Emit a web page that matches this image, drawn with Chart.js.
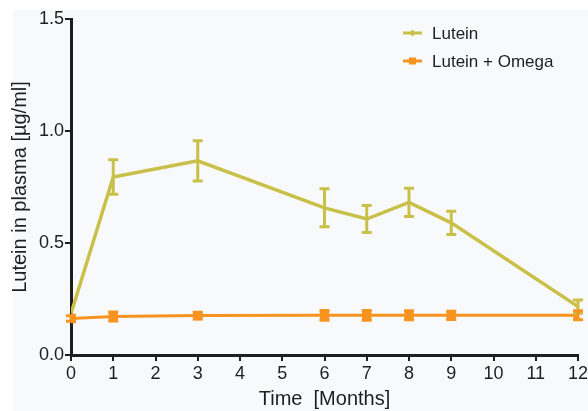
<!DOCTYPE html>
<html>
<head>
<meta charset="utf-8">
<script src="https://cdn.jsdelivr.net/npm/chart.js@4/dist/chart.umd.min.js"></script>
<style>
  html, body { margin: 0; padding: 0; background: #ffffff; }
  #wrap { width: 588px; height: 411px; }
</style>
</head>
<body>
<div id="wrap"><canvas id="c" width="588" height="411"></canvas></div>
<script>
// Time points (months) and plasma lutein levels, mean ± SEM
const months = [0, 1, 3, 6, 7, 8, 9, 12];
const luteinMean = [0.185, 0.795, 0.867, 0.657, 0.607, 0.681, 0.590, 0.216];
const luteinErr  = [0.000, 0.077, 0.090, 0.085, 0.060, 0.063, 0.052, 0.030];
const omegaMean  = [0.163, 0.172, 0.176, 0.177, 0.177, 0.177, 0.177, 0.177];
const omegaErr   = [0.012, 0.020, 0.015, 0.022, 0.022, 0.020, 0.018, 0.020];
const seriesNames = ['Lutein', 'Lutein + Omega'];
const xTicks = [0, 1, 2, 3, 4, 5, 6, 7, 8, 9, 10, 11, 12];
const yTicks = [0.0, 0.5, 1.0, 1.5];

const GREEN = '#c9c04a';
const ORANGE = '#f7931f';
const FONT = "'Liberation Sans', Arial, Helvetica, sans-serif";
const INK = '#1e1e1e';

const toPoints = (ys) => months.map((m, i) => ({ x: m, y: ys[i] }));

// Light panel behind the plot
const panel = {
  id: 'panel',
  beforeDraw(chart) {
    const ctx = chart.ctx;
    ctx.save();
    ctx.fillStyle = '#f8f9fb';
    ctx.fillRect(13, 10, chart.width - 13, chart.height - 10);
    ctx.restore();
  }
};

// Vertical error bars with caps, drawn through the chart scales
const errorBars = {
  id: 'errorBars',
  afterDatasetsDraw(chart) {
    const ctx = chart.ctx;
    const yScale = chart.scales.y;
    chart.data.datasets.forEach((ds, di) => {
      const meta = chart.getDatasetMeta(di);
      if (!ds.errors) return;
      ctx.save();
      ctx.strokeStyle = ds.borderColor;
      ctx.lineWidth = ds.errorWidth;
      ctx.lineCap = 'butt';
      meta.data.forEach((pt, i) => {
        const e = ds.errors[i];
        if (!e) return;
        const v = ds.data[i].y;
        const top = yScale.getPixelForValue(v + e);
        const bot = yScale.getPixelForValue(v - e);
        const half = ds.capHalf;
        ctx.beginPath();
        ctx.moveTo(pt.x, top);
        ctx.lineTo(pt.x, bot);
        ctx.moveTo(pt.x - half, top);
        ctx.lineTo(pt.x + half, top);
        ctx.moveTo(pt.x - half, bot);
        ctx.lineTo(pt.x + half, bot);
        ctx.stroke();
      });
      ctx.restore();
    });
  }
};

// Legend in the upper right of the plot: line sample with marker, then label
const legendBox = {
  id: 'legendBox',
  afterDraw(chart) {
    const ctx = chart.ctx;
    const x0 = 403, x1 = 422, tx = 432;
    const rows = [33, 61];
    ctx.save();
    chart.data.datasets.forEach((ds, i) => {
      const y = rows[i];
      ctx.strokeStyle = ds.borderColor;
      ctx.fillStyle = ds.borderColor;
      ctx.lineWidth = 3;
      ctx.beginPath();
      ctx.moveTo(x0, y);
      ctx.lineTo(x1, y);
      ctx.stroke();
      const cx = (x0 + x1) / 2;
      if (i === 0) {
        ctx.beginPath();
        ctx.moveTo(cx, y - 3.5);
        ctx.lineTo(cx + 3.5, y);
        ctx.lineTo(cx, y + 3.5);
        ctx.lineTo(cx - 3.5, y);
        ctx.closePath();
        ctx.fill();
      } else {
        ctx.fillRect(cx - 3.5, y - 3.5, 7, 7);
      }
      ctx.fillStyle = INK;
      ctx.font = '17px ' + FONT;
      ctx.textAlign = 'left';
      ctx.textBaseline = 'middle';
      ctx.fillText(ds.label, tx, y + 1);
    });
    ctx.restore();
  }
};

new Chart(document.getElementById('c'), {
  type: 'line',
  data: {
    datasets: [
      {
        label: seriesNames[0],
        data: toPoints(luteinMean),
        errors: luteinErr,
        errorWidth: 3,
        capHalf: 5,
        borderColor: GREEN,
        backgroundColor: GREEN,
        borderWidth: 3.5,
        pointRadius: 0,
        tension: 0,
        order: 2
      },
      {
        label: seriesNames[1],
        data: toPoints(omegaMean),
        errors: omegaErr,
        errorWidth: 3,
        capHalf: 5,
        borderColor: ORANGE,
        backgroundColor: ORANGE,
        borderWidth: 3,
        pointRadius: 4.5,
        pointStyle: 'rect',
        tension: 0,
        order: 1
      }
    ]
  },
  options: {
    responsive: false,
    animation: false,
    devicePixelRatio: 1,
    layout: { padding: { top: 19, right: 10, left: 0, bottom: 0 } },
    plugins: {
      legend: { display: false },
      tooltip: { enabled: false }
    },
    scales: {
      x: {
        type: 'linear',
        min: 0,
        max: 12,
        afterBuildTicks(scale) { scale.ticks = xTicks.map(v => ({ value: v })); },
        afterFit(scale) {
          scale.height = 56;
          scale.paddingRight = 0;
          scale.paddingLeft = 0;
        },
        border: { display: true, color: INK, width: 3 },
        grid: { display: true, drawOnChartArea: false, drawTicks: true, tickLength: 6, color: INK, lineWidth: 2 },
        ticks: {
          color: INK,
          padding: 2,
          font: { family: FONT, size: 18 },
          callback: (v) => String(v)
        },
        title: {
          display: true,
          text: 'Time  [Months]',
          color: INK,
          padding: { top: 0, bottom: 0 },
          font: { family: FONT, size: 20 }
        }
      },
      y: {
        type: 'linear',
        min: 0,
        max: 1.5,
        afterBuildTicks(scale) { scale.ticks = yTicks.map(v => ({ value: v })); },
        afterFit(scale) { scale.width = 71; },
        border: { display: true, color: INK, width: 3 },
        grid: { display: true, drawOnChartArea: false, drawTicks: true, tickLength: 6, color: INK, lineWidth: 2 },
        ticks: {
          color: INK,
          padding: 1,
          font: { family: FONT, size: 18 },
          callback: (v) => Number(v).toFixed(1)
        },
        title: {
          display: true,
          text: 'Lutein in plasma [µg/ml]',
          color: INK,
          padding: { top: 8, bottom: 0 },
          font: { family: FONT, size: 20 }
        }
      }
    }
  },
  plugins: [panel, errorBars, legendBox]
});
</script>
</body>
</html>
